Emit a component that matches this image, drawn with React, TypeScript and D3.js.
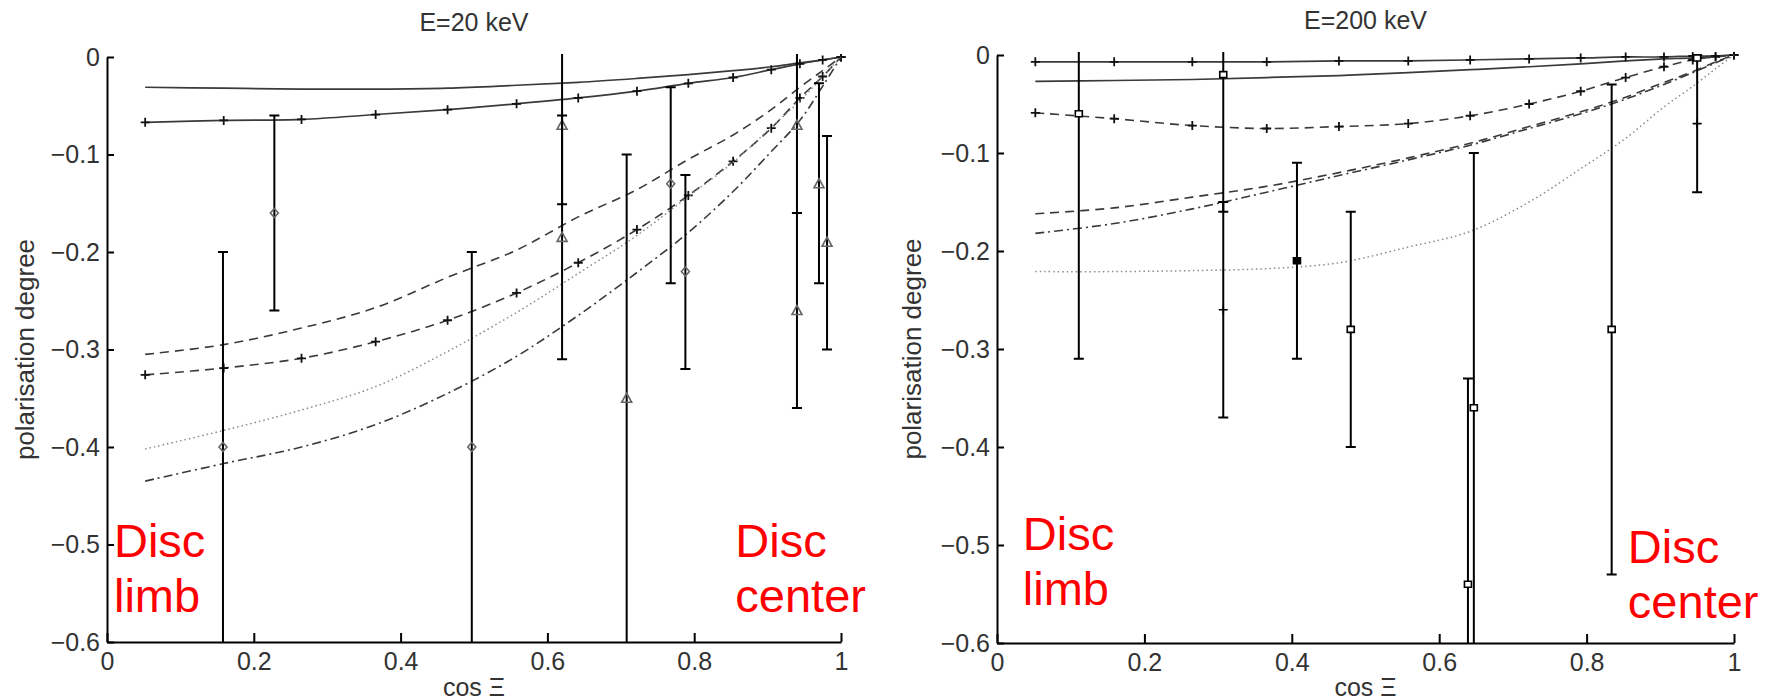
import React, { useEffect, useRef } from "react";
import * as d3 from "d3";

// axis ticks shared by both panels
const xTicks = [0, 0.2, 0.4, 0.6, 0.8, 1];
const xTickLabels = ["0", "0.2", "0.4", "0.6", "0.8", "1"];
const yTicks = [0, -0.1, -0.2, -0.3, -0.4, -0.5, -0.6];
const yTickLabels = ["0", "−0.1", "−0.2", "−0.3", "−0.4", "−0.5", "−0.6"];

// cos Xi sample points of the model curves
const cosGrid = [0.052, 0.159, 0.265, 0.366, 0.464, 0.558, 0.642, 0.722, 0.792, 0.853, 0.905, 0.944, 0.975, 1];

// E = 20 keV model curves
const lowSolid = [-0.031, -0.032, -0.033, -0.033, -0.032, -0.029, -0.026, -0.022, -0.018, -0.014, -0.01, -0.006, -0.003, 0];
const lowSolidPlus = [-0.067, -0.065, -0.064, -0.059, -0.054, -0.048, -0.042, -0.035, -0.027, -0.021, -0.013, -0.007, -0.003, 0];
const lowDashed = [-0.305, -0.295, -0.278, -0.257, -0.226, -0.198, -0.164, -0.136, -0.105, -0.08, -0.054, -0.031, -0.014, 0];
const lowDashedPlus = [-0.326, -0.319, -0.309, -0.292, -0.27, -0.242, -0.211, -0.177, -0.142, -0.107, -0.073, -0.042, -0.02, 0];
const lowDotted = [-0.402, -0.383, -0.362, -0.338, -0.302, -0.262, -0.222, -0.183, -0.143, -0.108, -0.072, -0.045, -0.02, 0];
const lowDashDot = [-0.435, -0.417, -0.4, -0.377, -0.345, -0.307, -0.265, -0.221, -0.18, -0.138, -0.097, -0.065, -0.03, 0];

// E = 20 keV observations
const lowObsX = [0.158, 0.228, 0.497, 0.62, 0.62, 0.708, 0.768, 0.788, 0.94, 0.94, 0.97, 0.981];
const lowObsY = [-0.4, -0.16, -0.4, -0.07, -0.185, -0.35, -0.13, -0.22, -0.07, -0.26, -0.13, -0.19];
const lowObsLo = [-0.7, -0.26, -0.7, -0.151, -0.31, -0.7, -0.232, -0.32, -0.16, -0.36, -0.232, -0.3];
const lowObsHi = [-0.2, -0.06, -0.2, 0.03, -0.06, -0.1, -0.031, -0.121, 0.03, -0.16, -0.027, -0.081];
const lowObsMark = ["diamond", "diamond", "diamond", "triangle", "triangle", "triangle", "diamond", "diamond", "triangle", "triangle", "triangle", "triangle"];

// E = 200 keV model curves
const highSolid = [-0.027, -0.026, -0.025, -0.023, -0.021, -0.018, -0.015, -0.012, -0.009, -0.006, -0.004, -0.003, -0.001, 0];
const highSolidPlus = [-0.007, -0.007, -0.007, -0.007, -0.006, -0.006, -0.005, -0.004, -0.003, -0.002, -0.002, -0.001, -0.001, 0];
const highDashed = [-0.162, -0.156, -0.145, -0.134, -0.12, -0.105, -0.09, -0.073, -0.058, -0.043, -0.028, -0.017, -0.007, 0];
const highDashedPlus = [-0.059, -0.065, -0.072, -0.075, -0.073, -0.07, -0.062, -0.05, -0.037, -0.023, -0.012, -0.005, -0.002, 0];
const highDotted = [-0.221, -0.221, -0.22, -0.218, -0.212, -0.196, -0.18, -0.15, -0.116, -0.085, -0.053, -0.032, -0.014, 0];
const highDashDot = [-0.182, -0.172, -0.157, -0.14, -0.123, -0.107, -0.092, -0.075, -0.06, -0.045, -0.03, -0.018, -0.008, 0];

// E = 200 keV observations
const highObsX = [0.111, 0.307, 0.307, 0.407, 0.48, 0.647, 0.639, 0.834, 0.95, 0.95];
const highObsY = [-0.06, -0.02, -0.26, -0.21, -0.28, -0.36, -0.54, -0.28, -0.07, -0.003];
const highObsLo = [-0.31, -0.16, -0.37, -0.31, -0.4, -0.7, -0.7, -0.53, -0.14, -0.003];
const highObsHi = [0.03, 0.03, -0.15, -0.11, -0.16, -0.1, -0.33, -0.03, 0, -0.003];
const highObsMark = ["square", "square", "plus", "filled", "square", "square", "square", "square", "plus", "square"];

const font = "'Liberation Sans', Arial, Helvetica, sans-serif";

const lineStyles = {
  solid: { color: "#3a3a3a", width: 1.7, dash: null },
  dashed: { color: "#3a3a3a", width: 1.6, dash: "9,6" },
  dotted: { color: "#8a8a8a", width: 1.5, dash: "1.5,3" },
  dashdot: { color: "#3a3a3a", width: 1.6, dash: "9,4,2,4" },
};

type Series = { values: number[]; style: keyof typeof lineStyles; marked: boolean };

type PanelCfg = {
  id: string;
  title: string;
  left: number;
  right: number;
  top: number;
  bottom: number;
  titleY: number;
  yLabelX: number;
  series: Series[];
  obsX: number[];
  obsY: number[];
  obsLo: number[];
  obsHi: number[];
  obsMark: string[];
  notes: { x: number; y: number; lines: string[] }[];
};

const panels: PanelCfg[] = [
  {
    id: "low",
    title: "E=20 keV",
    left: 107,
    right: 841,
    top: 57,
    bottom: 642,
    titleY: 31,
    yLabelX: 34,
    series: [
      { values: lowSolid, style: "solid", marked: false },
      { values: lowSolidPlus, style: "solid", marked: true },
      { values: lowDashed, style: "dashed", marked: false },
      { values: lowDashedPlus, style: "dashed", marked: true },
      { values: lowDotted, style: "dotted", marked: false },
      { values: lowDashDot, style: "dashdot", marked: false },
    ],
    obsX: lowObsX,
    obsY: lowObsY,
    obsLo: lowObsLo,
    obsHi: lowObsHi,
    obsMark: lowObsMark,
    notes: [
      { x: 0.0095, y: -0.513, lines: ["Disc", "limb"] },
      { x: 0.856, y: -0.513, lines: ["Disc", "center"] },
    ],
  },
  {
    id: "high",
    title: "E=200 keV",
    left: 997,
    right: 1734,
    top: 55,
    bottom: 643,
    titleY: 29,
    yLabelX: 921,
    series: [
      { values: highSolid, style: "solid", marked: false },
      { values: highSolidPlus, style: "solid", marked: true },
      { values: highDashed, style: "dashed", marked: false },
      { values: highDashedPlus, style: "dashed", marked: true },
      { values: highDotted, style: "dotted", marked: false },
      { values: highDashDot, style: "dashdot", marked: false },
    ],
    obsX: highObsX,
    obsY: highObsY,
    obsLo: highObsLo,
    obsHi: highObsHi,
    obsMark: highObsMark,
    notes: [
      { x: 0.035, y: -0.505, lines: ["Disc", "limb"] },
      { x: 0.856, y: -0.518, lines: ["Disc", "center"] },
    ],
  },
];

function Panel({ cfg }: { cfg: PanelCfg }) {
  const ref = useRef<SVGGElement>(null);

  useEffect(() => {
    const g = d3.select(ref.current);
    g.selectAll("*").remove();

    const x = d3.scaleLinear().domain([0, 1]).range([cfg.left, cfg.right]);
    const y = d3.scaleLinear().domain([-0.6, 0]).range([cfg.bottom, cfg.top]);

    // clip the plot area so long error bars stop at the axes
    const clipId = cfg.id + "-clip";
    g.append("clipPath")
      .attr("id", clipId)
      .append("rect")
      .attr("x", cfg.left)
      .attr("y", cfg.top - 3)
      .attr("width", cfg.right - cfg.left + 12)
      .attr("height", cfg.bottom - cfg.top + 3);
    const plot = g.append("g").attr("clip-path", `url(#${clipId})`);

    const line = d3
      .line<number>()
      .x((_, i) => x(cosGrid[i]))
      .y((d) => y(d))
      .curve(d3.curveCatmullRom);

    // model curves
    cfg.series.forEach((s) => {
      const st = lineStyles[s.style];
      plot
        .append("path")
        .attr("d", line(s.values))
        .attr("fill", "none")
        .attr("stroke", st.color)
        .attr("stroke-width", st.width)
        .attr("stroke-dasharray", st.dash);
      if (s.marked) {
        plot
          .append("g")
          .selectAll("path")
          .data(s.values)
          .join("path")
          .attr("d", (d, i) => {
            const cx = x(cosGrid[i]);
            const cy = y(d);
            return `M${cx - 4.5},${cy}h9M${cx},${cy - 4.5}v9`;
          })
          .attr("stroke", "#111")
          .attr("stroke-width", 1.8);
      }
    });

    // observations with error bars
    const idx = d3.range(cfg.obsX.length);
    const bars = plot.append("g").selectAll("g").data(idx).join("g");
    bars
      .append("path")
      .attr("d", (i) => {
        const cx = x(cfg.obsX[i]);
        const y0 = y(cfg.obsLo[i]);
        const y1 = y(cfg.obsHi[i]);
        return `M${cx},${y0}V${y1}M${cx - 5},${y0}h10M${cx - 5},${y1}h10`;
      })
      .attr("fill", "none")
      .attr("stroke", "#000")
      .attr("stroke-width", 2);

    bars
      .append("path")
      .attr("d", (i) => {
        const cx = x(cfg.obsX[i]);
        const cy = y(cfg.obsY[i]);
        const m = cfg.obsMark[i];
        if (m === "diamond") return `M${cx},${cy - 4.5}L${cx + 4},${cy}L${cx},${cy + 4.5}L${cx - 4},${cy}Z`;
        if (m === "triangle") return `M${cx},${cy - 5}L${cx + 5},${cy + 4}L${cx - 5},${cy + 4}Z`;
        if (m === "plus") return `M${cx - 4.5},${cy}h9M${cx},${cy - 4.5}v9`;
        return `M${cx - 3.5},${cy - 3}h7v6h-7Z`;
      })
      .attr("fill", (i) => (cfg.obsMark[i] === "filled" ? "#000" : cfg.obsMark[i] === "square" ? "#fff" : "none"))
      .attr("stroke", (i) => (cfg.obsMark[i] === "diamond" || cfg.obsMark[i] === "triangle" ? "#666" : "#000"))
      .attr("stroke-width", 1.6);

    // axes
    const xAxis = d3
      .axisBottom(x)
      .tickValues(xTicks)
      .tickFormat((_, i) => xTickLabels[i])
      .tickSizeInner(-9)
      .tickSizeOuter(0)
      .tickPadding(10);
    const yAxis = d3
      .axisLeft(y)
      .tickValues(yTicks)
      .tickFormat((_, i) => yTickLabels[i])
      .tickSizeInner(-7)
      .tickSizeOuter(0)
      .tickPadding(7);

    const gx = g.append("g").attr("transform", `translate(0,${cfg.bottom})`).call(xAxis);
    const gy = g.append("g").attr("transform", `translate(${cfg.left},0)`).call(yAxis);
    [gx, gy].forEach((a) => {
      a.attr("font-family", font).attr("font-size", 25);
      a.select(".domain").attr("stroke", "#000").attr("stroke-width", 2);
      a.selectAll(".tick line").attr("stroke", "#000").attr("stroke-width", 2);
      a.selectAll(".tick text").attr("fill", "#333");
    });

    // title and axis labels
    const mid = (cfg.left + cfg.right) / 2;
    g.append("text")
      .attr("x", mid)
      .attr("y", cfg.titleY)
      .attr("text-anchor", "middle")
      .attr("font-family", font)
      .attr("font-size", 25)
      .attr("fill", "#333")
      .text(cfg.title);
    g.append("text")
      .attr("x", mid)
      .attr("y", 696)
      .attr("text-anchor", "middle")
      .attr("font-family", font)
      .attr("font-size", 25)
      .attr("fill", "#333")
      .text("cos Ξ");
    g.append("text")
      .attr("transform", `translate(${cfg.yLabelX},${(cfg.top + cfg.bottom) / 2}) rotate(-90)`)
      .attr("text-anchor", "middle")
      .attr("font-family", font)
      .attr("font-size", 26)
      .attr("fill", "#333")
      .text("polarisation degree");

    // red annotations
    cfg.notes.forEach((n) => {
      const t = g
        .append("text")
        .attr("x", x(n.x))
        .attr("y", y(n.y))
        .attr("font-family", font)
        .attr("font-size", 47)
        .attr("fill", "#ff0000");
      n.lines.forEach((l, i) => {
        t.append("tspan")
          .attr("x", x(n.x))
          .attr("dy", i === 0 ? 0 : 55)
          .text(l);
      });
    });
  }, [cfg]);

  return <g ref={ref} />;
}

export default function App() {
  return (
    <div>
      <style>{"body{margin:0}"}</style>
      <svg width={1775} height={700} style={{ display: "block", background: "#fff" }}>
        {panels.map((p) => (
          <Panel key={p.id} cfg={p} />
        ))}
      </svg>
    </div>
  );
}
